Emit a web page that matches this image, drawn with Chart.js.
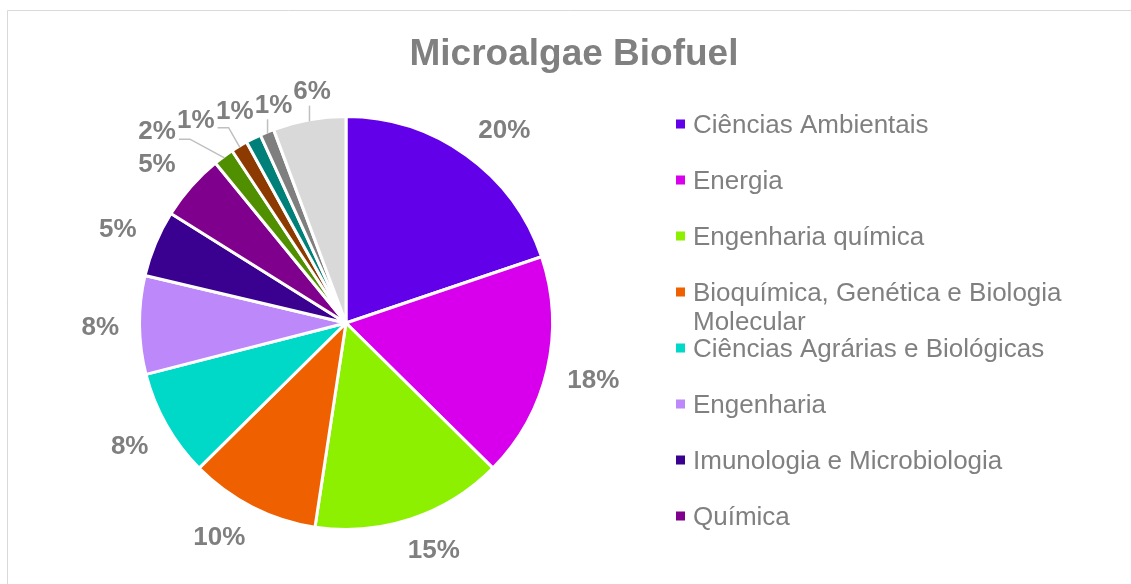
<!DOCTYPE html>
<html>
<head>
<meta charset="utf-8">
<script src="https://cdn.jsdelivr.net/npm/chart.js@4.4.1/dist/chart.umd.min.js"></script>
<style>
  html, body { margin: 0; padding: 0; background: #ffffff; }
  #wrap { position: relative; width: 1131px; height: 584px; }
</style>
</head>
<body>
<div id="wrap"><canvas id="c"></canvas></div>
<script>
// ---------------- data ----------------
const chartTitle = 'Microalgae Biofuel';
const categories = [
  'Ciências Ambientais',
  'Energia',
  'Engenharia química',
  'Bioquímica, Genética e Biologia Molecular',
  'Ciências Agrárias e Biológicas',
  'Engenharia',
  'Imunologia e Microbiologia',
  'Química',
  'Categoria 9',
  'Categoria 10',
  'Categoria 11',
  'Categoria 12',
  'Categoria 13'
];
const shares = [19.8, 17.6, 15.0, 10.2, 8.4, 7.7, 5.2, 5.2, 1.6, 1.3, 1.2, 1.1, 5.7];
const sliceColors = [
  '#6300EA', '#D800EC', '#8CF000', '#EE6000', '#00D8C8', '#BC88FA',
  '#3A0090', '#7F008C', '#4F8F00', '#8C3A00', '#008078', '#7F7F7F', '#D9D9D9'
];
const legendShown = 8; // only the first 8 categories are visible in the legend

// ---------------- styling ----------------
const FONT = "'Liberation Sans', Arial, Helvetica, sans-serif";
const TEXT_GRAY = '#808080';

function wrapText(ctx, text, maxW) {
  const words = text.split(' ');
  const lines = [];
  let cur = '';
  for (const w of words) {
    const t = cur ? cur + ' ' + w : w;
    if (ctx.measureText(t).width > maxW && cur) { lines.push(cur); cur = w; }
    else cur = t;
  }
  if (cur) lines.push(cur);
  return lines;
}

const clamp1 = v => Math.max(-1, Math.min(1, v));

const decorPlugin = {
  id: 'decor',
  beforeDraw(chart) {
    const ctx = chart.ctx;
    ctx.save();
    ctx.strokeStyle = '#d9d9d9';
    ctx.lineWidth = 1;
    ctx.beginPath();
    ctx.moveTo(7.5, 600);
    ctx.lineTo(7.5, 10.5);
    ctx.lineTo(1140, 10.5);
    ctx.stroke();
    ctx.restore();
  },
  afterDraw(chart) {
    const ctx = chart.ctx;
    ctx.save();
    // title
    ctx.fillStyle = TEXT_GRAY;
    ctx.font = 'bold 37px ' + FONT;
    ctx.textAlign = 'center';
    ctx.textBaseline = 'alphabetic';
    ctx.fillText(chartTitle, 574, 64.5);

    // legend
    ctx.font = '26px ' + FONT;
    ctx.textAlign = 'left';
    for (let i = 0; i < legendShown; i++) {
      const cy = 124 + 56 * i;
      ctx.fillStyle = sliceColors[i];
      ctx.fillRect(676, cy - 4.5, 9, 9);
      ctx.fillStyle = TEXT_GRAY;
      const lines = wrapText(ctx, categories[i], 420);
      lines.forEach((ln, k) => ctx.fillText(ln, 693, cy + 8.8 + k * 29));
    }
    ctx.restore();
  },
  afterDatasetsDraw(chart) {
    const ctx = chart.ctx;
    const meta = chart.getDatasetMeta(0);
    const total = shares.reduce((a, b) => a + b, 0);
    ctx.save();
    ctx.font = 'bold 26px ' + FONT;
    const HH = 10;      // half height of the label glyph box
    const GAP = 20.5;   // distance from outer radius to nearest label corner
    const labels = meta.data.map((arc, i) => {
      const p = arc.getProps(['x', 'y', 'startAngle', 'endAngle', 'outerRadius'], true);
      const mid = (p.startAngle + p.endAngle) / 2;
      const text = Math.round(shares[i] / total * 100) + '%';
      const c = Math.cos(mid), s = Math.sin(mid);
      const R = p.outerRadius + GAP;
      const w = ctx.measureText(text).width;
      const x = p.x + R * c + (w / 2) * clamp1(c * 2);
      const y = p.y + R * s + HH * clamp1(s * 2);
      return { i, mid, text, w, cx: p.x, cy: p.y, r: p.outerRadius,
               x0: x, y0: y, x, y, horiz: Math.abs(s) > 0.7 };
    });
    const overlap = (a, b) =>
      Math.abs(a.x - b.x) < (a.w + b.w) / 2 + 1 && Math.abs(a.y - b.y) < 26;
    for (let it = 0; it < 8000; it++) {
      let moved = false;
      for (let k = 0; k < labels.length - 1; k++) {
        const a = labels[k], b = labels[k + 1];
        if (overlap(a, b)) {
          if (a.horiz && b.horiz) {
            const dir = Math.sign(b.x0 - a.x0) || 1;
            a.x -= 0.25 * dir; b.x += 0.25 * dir;
          } else {
            const dir = Math.sign(b.y0 - a.y0) || 1;
            a.y -= 0.25 * dir; b.y += 0.25 * dir;
          }
          moved = true;
        }
      }
      if (!moved) break;
    }
    // leader lines
    ctx.strokeStyle = '#bfbfbf';
    ctx.lineWidth = 1.5;
    labels.forEach(l => {
      if (Math.hypot(l.x - l.x0, l.y - l.y0) < 12) return;
      const rv = l.r - 1.5;
      const tx = l.cx + rv * Math.cos(l.mid), ty = l.cy + rv * Math.sin(l.mid);
      const hw = l.w / 2;
      const below = ty > l.y;
      const edgeY = l.y + (below ? HH + 6 : -(HH + 6));
      ctx.beginPath();
      if (tx > l.x - hw && tx < l.x + hw) {
        ctx.moveTo(tx, edgeY);
        ctx.lineTo(tx, ty);
      } else {
        const side = tx > l.x ? 1 : -1;
        const sx = l.x + side * (hw + 3);
        const sy = l.y + (below ? HH - 1 : -(HH - 1));
        ctx.moveTo(sx, sy);
        ctx.lineTo(sx + side * 11, sy);
        ctx.lineTo(tx, ty);
      }
      ctx.stroke();
    });
    // label text
    ctx.fillStyle = '#7F7F7F';
    ctx.textAlign = 'center';
    ctx.textBaseline = 'alphabetic';
    labels.forEach(l => ctx.fillText(l.text, l.x, l.y + 9.3));
    ctx.restore();
  }
};

new Chart(document.getElementById('c'), {
  type: 'pie',
  data: {
    labels: categories,
    datasets: [{
      data: shares,
      backgroundColor: sliceColors,
      borderColor: '#ffffff',
      borderWidth: 3,
      hoverOffset: 0
    }]
  },
  options: {
    responsive: true,
    maintainAspectRatio: false,
    animation: false,
    events: [],
    layout: { padding: { left: 138, top: 115, right: 577, bottom: 53 } },
    plugins: {
      legend: { display: false },
      title: { display: false },
      tooltip: { enabled: false }
    }
  },
  plugins: [decorPlugin]
});
</script>
</body>
</html>
